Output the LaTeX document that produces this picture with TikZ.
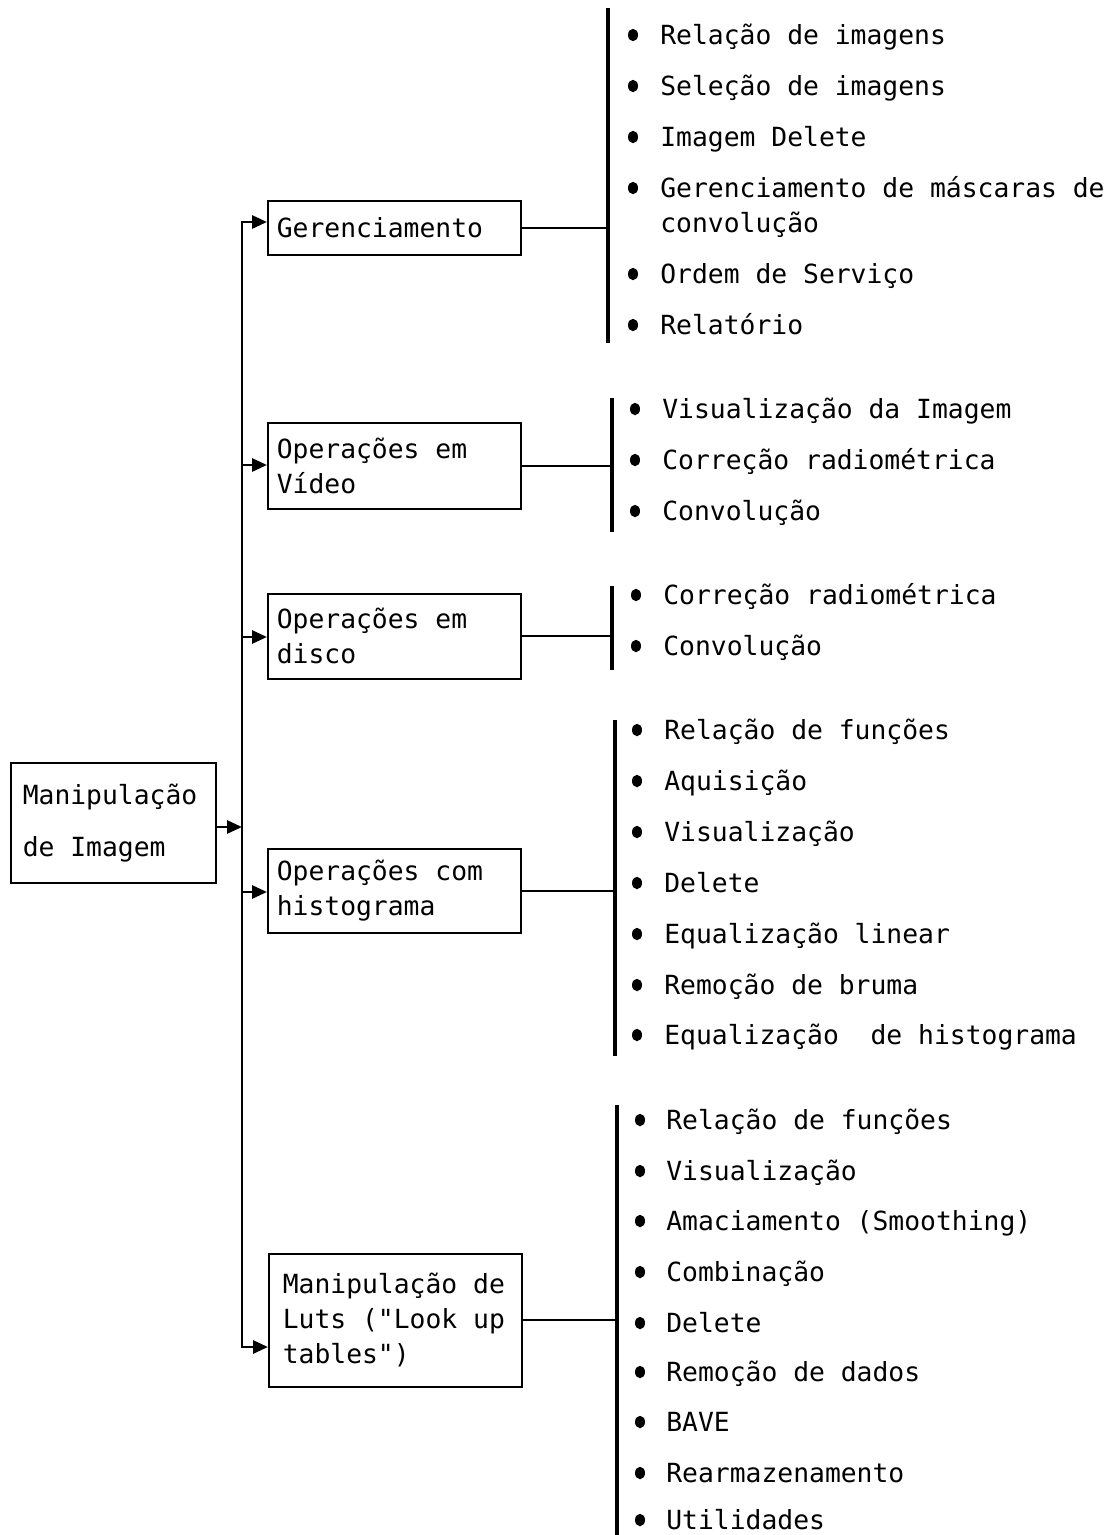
\documentclass[tikz,border=0pt]{standalone}
\usepackage{fontspec}
\setmainfont{DejaVu Sans Mono}[WordSpace={1,0,0},Ligatures=TeXOff]
\usetikzlibrary{arrows.meta}
\tikzset{
  every node/.style={execute at begin node={\spaceskip=0.602em\relax}},
  box/.style={draw,line width=0.9pt,rectangle,align=left,anchor=north west,inner xsep=0.18cm,inner ysep=0pt,text width=4.7cm},
  item/.style={anchor=base west,inner sep=0pt,align=left},
  arr/.style={line width=1.6pt,>={Triangle[length=0.3cm,width=0.26cm]}},
  brk/.style={line width=2pt},
  lnk/.style={line width=1.3pt},
}
\begin{document}
\begin{tikzpicture}[x=0.02cm,y=-0.02cm,font=\fontsize{15}{19.9}\selectfont]
\useasboundingbox (0,0) rectangle (1117,1535);
% caixas
\node[box,minimum width=4.1cm,minimum height=2.4cm,text width=3.62cm,inner xsep=0.24cm,font=\fontsize{15}{29.5}\selectfont] (man) at (10,762) {Manipulação\\de Imagem};
\node[box,minimum height=1.08cm] (ger) at (267,200) {Gerenciamento};
\node[box,minimum height=1.72cm] (vid) at (267,422) {Operações em\\Vídeo};
\node[box,minimum height=1.70cm] (dis) at (267,593) {Operações em\\disco};
\node[box,minimum height=1.68cm] (his) at (267,848) {Operações com\\histograma};
\node[box,minimum height=2.66cm,inner xsep=0.28cm,text width=4.5cm] (lut) at (268,1253) {Manipulação de\\Luts ("Look up\\tables")};
% tronco
\coordinate (jg) at (242,222);
\coordinate (jv) at (242,465);
\coordinate (jd) at (242,637);
\coordinate (jm) at (242,827);
\coordinate (jh) at (242,892);
\coordinate (jl) at (242,1347);
\draw[arr,<->] (ger.west |- jg) -- (jg) -- (jl) -- (lut.west |- jl);
\draw[arr,->] (man.east |- jm) -- (jm);
\draw[arr,->] (jv) -- (vid.west |- jv);
\draw[arr,->] (jd) -- (dis.west |- jd);
\draw[arr,->] (jh) -- (his.west |- jh);
% chaves
\coordinate (bg) at (608,8);   \draw[brk] (bg) -- (608,343);
\coordinate (bv) at (612,398); \draw[brk] (bv) -- (612,532);
\coordinate (bd) at (612,586); \draw[brk] (bd) -- (612,670);
\coordinate (bh) at (615,720); \draw[brk] (bh) -- (615,1056);
\coordinate (bl) at (617,1105); \draw[brk] (bl) -- (617,1535);
\draw[lnk] (ger.east) -- (ger.east -| bg);
\draw[lnk] (vid.east) -- (vid.east -| bv);
\draw[lnk] (dis.east) -- (dis.east -| bd);
\draw[lnk] (his.east) -- (his.east -| bh);
\draw[lnk] (lut.east) -- (lut.east -| bl);
% itens
\foreach \y/\t in {35/Relação de imagens,86/Seleção de imagens,137/Imagem Delete,274/Ordem de Serviço,325/Relatório}{
  \fill (633,\y) ellipse (0.1cm and 0.125cm);
  \node[item] (g-\y) at (660,\y+9) {\t};
}
\fill (633,188) ellipse (0.1cm and 0.125cm);
\node[item] (g-188) at (660,232) {Gerenciamento de máscaras de\\convolução};
\foreach \y/\t in {409/Visualização da Imagem,460/Correção radiométrica,511/Convolução}{
  \fill (635,\y) ellipse (0.1cm and 0.125cm);
  \node[item] (v-\y) at (662,\y+9) {\t};
}
\foreach \y/\t in {595/Correção radiométrica,646/Convolução}{
  \fill (636,\y) ellipse (0.1cm and 0.125cm);
  \node[item] (d-\y) at (663,\y+9) {\t};
}
\foreach \y/\t in {730/Relação de funções,781/Aquisição,832/Visualização,883/Delete,934/Equalização linear,985/Remoção de bruma,1035/Equalização\ \ de histograma}{
  \fill (637,\y) ellipse (0.1cm and 0.125cm);
  \node[item] (h-\y) at (664,\y+9) {\t};
}
\foreach \y/\t in {1120/Relação de funções,1171/Visualização,1221/Amaciamento (Smoothing),1272/Combinação,1323/Delete,1372/Remoção de dados,1422/BAVE,1473/Rearmazenamento,1520/Utilidades}{
  \fill (640,\y) ellipse (0.1cm and 0.125cm);
  \node[item] (l-\y) at (666,\y+9) {\t};
}
\end{tikzpicture}
\end{document}
